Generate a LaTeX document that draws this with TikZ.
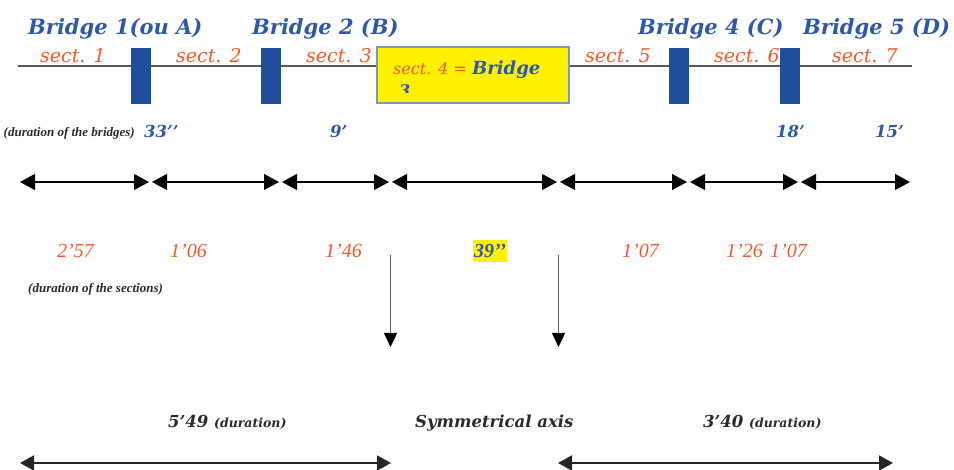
\documentclass[tikz,border=0pt]{standalone}
\usepackage{fontspec}
\setmainfont{Liberation Serif}
\newfontfamily\dvs{DejaVu Serif}
\usetikzlibrary{arrows.meta}
\definecolor{brblue}{HTML}{2F59A8}
\definecolor{pierblue}{HTML}{1F4E9C}
\definecolor{sectred}{HTML}{F25A2C}
\definecolor{hiyel}{HTML}{FFF200}
\definecolor{boxedge}{HTML}{7D97C6}
\definecolor{notegray}{HTML}{2A2A2A}
\begin{document}
\begin{tikzpicture}[x=1pt,y=-1pt,
  lbl/.style={inner sep=0pt, anchor=base west},
  bridgelbl/.style={lbl, text=brblue, font=\dvs\bfseries\itshape\fontsize{21}{23}\selectfont},
  sectlbl/.style={lbl, text=sectred, font=\dvs\itshape\fontsize{19}{21}\selectfont},
  bnum/.style={lbl, text=brblue, font=\dvs\bfseries\itshape\fontsize{16.5}{18}\selectfont},
  snum/.style={lbl, text=sectred, font=\itshape\fontsize{20}{22}\selectfont},
  note/.style={lbl, text=notegray, font=\bfseries\itshape\fontsize{13}{15}\selectfont},
  bottomlbl/.style={lbl, text=notegray, font=\dvs\bfseries\itshape\fontsize{16.5}{18}\selectfont},
  pier/.style={draw=none, fill=pierblue, minimum width=20pt, minimum height=56pt, inner sep=0pt},
  ybox/.style={draw=boxedge, line width=1.2pt, fill=hiyel, minimum width=192pt, minimum height=56pt, inner sep=0pt},
  track/.style={draw=black!65, line width=1.3pt},
  dim/.style={{Triangle[length=15pt,width=16pt]}-{Triangle[length=15pt,width=16pt]}, draw=black, line width=1.2pt},
  down/.style={-{Triangle[length=14pt,width=13pt,color=black]}, draw=black!65, line width=1.4pt},
  total/.style={{Triangle[length=14pt,width=15pt]}-{Triangle[length=14pt,width=15pt]}, draw=black!85, line width=2pt}
]
\useasboundingbox (0,0) rectangle (954,470);
% track line
\coordinate (tl) at (18,66);
\coordinate (tr) at (912,66);
\draw[track] (tl) -- (tr);
% piers
\node[pier] (p1) at (140.5,76) {};
\node[pier] (p2) at (270.5,76) {};
\node[pier] (p4) at (678.5,76) {};
\node[pier] (p5) at (789.5,76) {};
% bridge 3 box
\node[ybox] (b3) at (473,75) {};
\node[lbl, text=sectred, font=\dvs\itshape\fontsize{16}{18}\selectfont] (b3s) at (393,75) {sect. 4 =};
\node[lbl, text=brblue, font=\dvs\bfseries\itshape\fontsize{18}{20}\selectfont] (b3b) at (472,75) {Bridge};
\begin{scope}
\clip (377,47) rectangle (569,93);
\node[lbl, text=brblue, font=\dvs\bfseries\itshape\fontsize{16}{18}\selectfont] (b3n) at (399,97) {3};
\end{scope}
% bridge labels
\node[bridgelbl] (l1) at (28,35) {Bridge 1(ou A)};
\node[bridgelbl] (l2) at (252,35) {Bridge 2 (B)};
\node[bridgelbl] (l4) at (638,35) {Bridge 4 (C)};
\node[bridgelbl] (l5) at (803,35) {Bridge 5 (D)};
% section labels
\node[sectlbl] (s1) at (40,63) {sect. 1};
\node[sectlbl] (s2) at (176,63) {sect. 2};
\node[sectlbl] (s3) at (306,63) {sect. 3};
\node[sectlbl] (s5) at (585,63) {sect. 5};
\node[sectlbl] (s6) at (714,63) {sect. 6};
\node[sectlbl] (s7) at (832,63) {sect. 7};
% bridge durations
\node[note, anchor=base east] (nb) at (135,137) {(duration of the bridges)};
\node[bnum] (d1) at (144,138) {33’’};
\node[bnum] (d2) at (330,138) {9’};
\node[bnum] (d4) at (776,138) {18’};
\node[bnum] (d5) at (875,138) {15’};
% dimension arrows
\coordinate (m0) at (20,182);
\coordinate (m1) at (150.5,182);
\coordinate (m2) at (280.5,182);
\coordinate (m3) at (390.5,182);
\coordinate (m4) at (558.5,182);
\coordinate (m5) at (688.5,182);
\coordinate (m6) at (799.5,182);
\coordinate (m7) at (910,182);
\draw[dim, shorten >=1.5pt] (m0) -- (m1);
\draw[dim, shorten <=1.5pt, shorten >=1.5pt] (m1) -- (m2);
\draw[dim, shorten <=1.5pt, shorten >=1.5pt] (m2) -- (m3);
\draw[dim, shorten <=1.5pt, shorten >=1.5pt] (m3) -- (m4);
\draw[dim, shorten <=1.5pt, shorten >=1.5pt] (m4) -- (m5);
\draw[dim, shorten <=1.5pt, shorten >=1.5pt] (m5) -- (m6);
\draw[dim, shorten <=1.5pt] (m6) -- (m7);
% section durations
\node[snum] (t1) at (57,258) {2’57};
\node[snum] (t2) at (170,258) {1’06};
\node[snum] (t3) at (325,258) {1’46};
\node[lbl, fill=hiyel, text=brblue, font=\bfseries\itshape\fontsize{20}{22}\selectfont, inner xsep=1pt, inner ysep=0pt, text height=18pt, text depth=4pt] (t4) at (473,258) {39’’};
\node[snum] (t5) at (622,258) {1’07};
\node[snum] (t6) at (726,258) {1’26};
\node[snum] (t7) at (770,258) {1’07};
\node[note] (ns) at (28,293) {(duration of the sections)};
% axis arrows
\coordinate (a1s) at (390.5,255);
\coordinate (a1e) at (390.5,347);
\coordinate (a2s) at (558.5,255);
\coordinate (a2e) at (558.5,347);
\draw[down] (a1s) -- (a1e);
\draw[down] (a2s) -- (a2e);
% bottom labels
\node[bottomlbl] (bl) at (168,428) {5’49 {\fontsize{12.5}{14}\selectfont(duration)}};
\node[bottomlbl] (bc) at (415,428) {Symmetrical axis};
\node[bottomlbl] (br) at (703,428) {3’40 {\fontsize{12.5}{14}\selectfont(duration)}};
% bottom arrows
\coordinate (q0) at (20,463);
\coordinate (q1) at (391,463);
\coordinate (q2) at (558,463);
\coordinate (q3) at (893,463);
\draw[total] (q0) -- (q1);
\draw[total] (q2) -- (q3);
\end{tikzpicture}
\end{document}
